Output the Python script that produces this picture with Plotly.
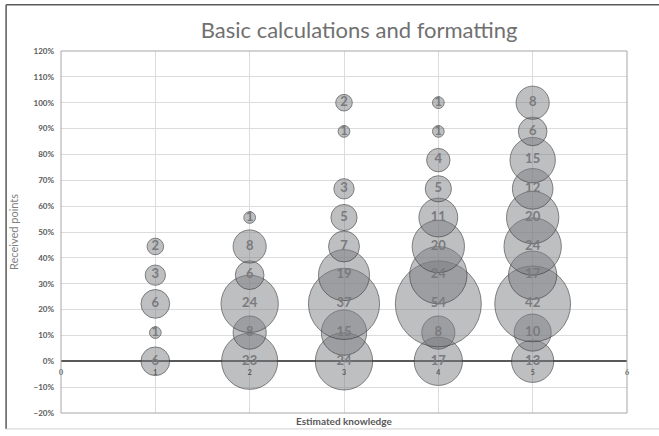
import plotly.graph_objects as go

# Estimated knowledge (x), received points share (y), number of students (bubble size)
knowledge = [1, 1, 1, 1, 1,
             2, 2, 2, 2, 2, 2,
             3, 3, 3, 3, 3, 3, 3, 3, 3,
             4, 4, 4, 4, 4, 4, 4, 4, 4, 4,
             5, 5, 5, 5, 5, 5, 5, 5, 5, 5]
points = [0.0, 0.111, 0.222, 0.333, 0.444,
          0.0, 0.111, 0.222, 0.333, 0.444, 0.556,
          0.0, 0.111, 0.222, 0.333, 0.444, 0.556, 0.667, 0.889, 1.0,
          0.0, 0.111, 0.222, 0.333, 0.444, 0.556, 0.667, 0.778, 0.889, 1.0,
          0.0, 0.111, 0.222, 0.333, 0.444, 0.556, 0.667, 0.778, 0.889, 1.0]
counts = [6, 1, 6, 3, 2,
          23, 8, 24, 6, 8, 1,
          24, 15, 37, 19, 7, 5, 3, 1, 2,
          17, 8, 54, 24, 20, 11, 5, 4, 1, 1,
          13, 10, 42, 17, 24, 20, 12, 15, 6, 8]

x_ticks = [0, 1, 2, 3, 4, 5, 6]
y_ticks = [-0.2, -0.1, 0.0, 0.1, 0.2, 0.3, 0.4, 0.5, 0.6, 0.7, 0.8, 0.9, 1.0, 1.1, 1.2]

FONT = "Lato"
max_diam = 86
sizeref = 2.0 * max(counts) / (max_diam ** 2)

fig = go.Figure()
fig.add_trace(go.Scatter(
    x=knowledge, y=points, mode="markers+text",
    text=[str(c) for c in counts],
    textposition="middle center",
    textfont=dict(family=FONT, size=13, color="#7a7a7d", weight="bold"),
    marker=dict(size=counts, sizemode="area", sizeref=sizeref,
                color="rgba(124,125,130,0.7)",
                line=dict(color="rgba(55,55,58,0.9)", width=1)),
    hoverinfo="skip", showlegend=False, cliponaxis=False,
))

fig.update_layout(
    width=659, height=436,
    margin=dict(l=61, r=32, t=51, b=23, autoexpand=False),
    paper_bgcolor="white", plot_bgcolor="white",
    title=dict(text="Basic calculations and formatting", x=0.545, y=0.931,
               xanchor="center", yanchor="middle", automargin=False,
               font=dict(family=FONT, size=22, color="#707070")),
    xaxis=dict(range=[0, 6], tickvals=x_ticks, ticktext=[str(v) for v in x_ticks],
               anchor="free", position=0.2 / 1.4, automargin=False,
               showgrid=True, gridcolor="#dcdcdc", gridwidth=1,
               zeroline=False, showline=False, ticks="", ticklabelstandoff=6,
               tickfont=dict(family=FONT, size=7, color="#595959", weight="bold")),
    yaxis=dict(range=[-0.2, 1.2], tickvals=y_ticks, tickformat=".0%", automargin=False,
               showgrid=True, gridcolor="#dcdcdc", gridwidth=1,
               zeroline=True, zerolinecolor="#5a5a5a", zerolinewidth=1.5,
               showline=False, ticks="", ticklabelstandoff=6,
               tickfont=dict(family=FONT, size=8, color="#595959", weight="bold"),
               title=dict(text="Received points", standoff=12,
                          font=dict(family=FONT, size=11, color="#7f7f7f"))),
    annotations=[dict(text="Estimated knowledge", xref="paper", yref="paper",
                      x=0.5, y=-0.022, xanchor="center", yanchor="middle",
                      showarrow=False,
                      font=dict(family=FONT, size=10, color="#595959", weight="bold"))],
    shapes=[
        dict(type="rect", xref="paper", yref="paper", x0=0, x1=1, y0=0, y1=1,
             line=dict(color="#a6a6a6", width=1), layer="above"),
        dict(type="line", xref="paper", yref="paper", x0=-0.097, x1=1.06, y0=1.128, y1=1.128,
             line=dict(color="#595959", width=1.5)),
        dict(type="line", xref="paper", yref="paper", x0=-0.097, x1=-0.097, y0=-0.044, y1=1.128,
             line=dict(color="#595959", width=1.5)),
        dict(type="line", xref="paper", yref="paper", x0=-0.097, x1=1.06, y0=-0.044, y1=-0.044,
             line=dict(color="#d0d0d0", width=1)),
    ],
)

fig.write_html("out.html", config={"displayModeBar": False},
               post_script="document.body.style.margin='0';document.body.style.overflow='hidden';")
